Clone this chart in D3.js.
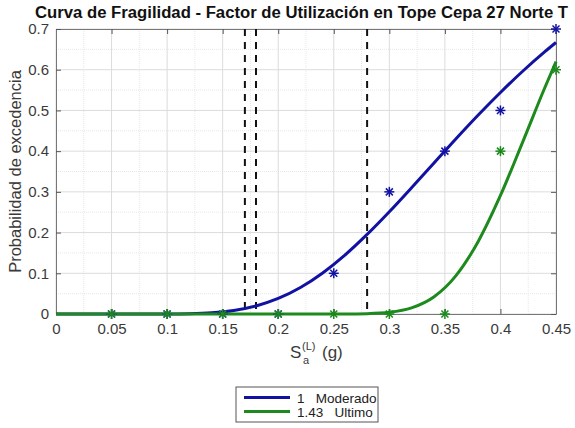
<!DOCTYPE html>
<html>
<head>
<meta charset="utf-8">
<script src="https://cdn.jsdelivr.net/npm/d3@7"></script>
<style>
  html, body { margin: 0; padding: 0; background: #fff; }
  svg { display: block; font-family: "Liberation Sans", Arial, sans-serif; }
</style>
</head>
<body>
<svg id="chart" width="575" height="428"></svg>
<script>
// Observed exceedance fractions at each spectral acceleration level
const levelsSa = [0.05, 0.10, 0.15, 0.20, 0.25, 0.30, 0.35, 0.40, 0.45];
const obsModerado = [0, 0, 0, 0, 0.10, 0.30, 0.40, 0.50, 0.70];
const obsUltimo   = [0, 0, 0, 0, 0, 0, 0, 0.40, 0.60];

// Fitted fragility curves (sampled)
const curveSaModerado = [0, 0.05, 0.10, 0.12, 0.14, 0.16, 0.18, 0.20, 0.22, 0.24, 0.26, 0.28, 0.30, 0.32, 0.34, 0.36, 0.38, 0.40, 0.42, 0.44, 0.45];
const curvePModerado  = [0, 0, 0.0001, 0.0008, 0.0031, 0.0087, 0.0198, 0.0381, 0.065, 0.1008, 0.1446, 0.1954, 0.2511, 0.3101, 0.3705, 0.4304, 0.4887, 0.5441, 0.5962, 0.6443, 0.6668];
const curveSaUltimo = [0, 0.05, 0.10, 0.15, 0.20, 0.24, 0.26, 0.28, 0.30, 0.32, 0.34, 0.36, 0.38, 0.40, 0.42, 0.44, 0.45];
const curvePUltimo  = [0, 0, 0, 0, 0, 0, 0.0001, 0.0009, 0.0042, 0.015, 0.0418, 0.0943, 0.1782, 0.2911, 0.4223, 0.5563, 0.6198];

// Threshold markers (dashed verticals)
const thresholds = [0.17, 0.18, 0.28];

const xTicks = [0, 0.05, 0.1, 0.15, 0.2, 0.25, 0.3, 0.35, 0.4, 0.45];
const yTicks = [0, 0.1, 0.2, 0.3, 0.4, 0.5, 0.6, 0.7];
const legendLabels = ["1   Moderado", "1.43   Ultimo"];
const titleText = "Curva de Fragilidad - Factor de Utilización en Tope Cepa 27 Norte T";

const colBlue = "#1212a2";
const colGreen = "#1c8a1c";

const svg = d3.select("#chart");
const pL = 56, pR = 556, pT = 29, pB = 314;

const x = d3.scaleLinear().domain([0, 0.45]).range([pL, pR]);
const y = d3.scaleLinear().domain([0, 0.7]).range([pB, pT]);

// minor grid
const xMinor = d3.range(0.025, 0.45, 0.05);
const yMinor = d3.range(0.05, 0.7, 0.1);
const g = svg.append("g");
g.selectAll(".xm").data(xMinor).join("line")
  .attr("x1", d => x(d)).attr("x2", d => x(d)).attr("y1", pT).attr("y2", pB)
  .attr("stroke", "#e8e8e8").attr("stroke-width", 1).attr("stroke-dasharray", "1,1");
g.selectAll(".ym").data(yMinor).join("line")
  .attr("x1", pL).attr("x2", pR).attr("y1", d => y(d)).attr("y2", d => y(d))
  .attr("stroke", "#e8e8e8").attr("stroke-width", 1).attr("stroke-dasharray", "1,1");
// major grid
g.selectAll(".xg").data(xTicks).join("line")
  .attr("x1", d => x(d)).attr("x2", d => x(d)).attr("y1", pT).attr("y2", pB)
  .attr("stroke", "#dcdcdc").attr("stroke-width", 1);
g.selectAll(".yg").data(yTicks).join("line")
  .attr("x1", pL).attr("x2", pR).attr("y1", d => y(d)).attr("y2", d => y(d))
  .attr("stroke", "#dcdcdc").attr("stroke-width", 1);

// axes box with inward ticks
const axCol = "#3a3a3a";
const fmt = d => d === 0 ? "0" : String(+d.toFixed(2));
const xAxis = svg.append("g").attr("transform", `translate(0,${pB})`)
  .call(d3.axisBottom(x).tickValues(xTicks).tickSizeInner(-5).tickSizeOuter(0).tickPadding(9).tickFormat(fmt));
const xAxisTop = svg.append("g").attr("transform", `translate(0,${pT})`)
  .call(d3.axisTop(x).tickValues(xTicks).tickSizeInner(-5).tickSizeOuter(0).tickFormat(""));
const yAxis = svg.append("g").attr("transform", `translate(${pL},0)`)
  .call(d3.axisLeft(y).tickValues(yTicks).tickSizeInner(-5).tickSizeOuter(0).tickPadding(7).tickFormat(fmt));
const yAxisRight = svg.append("g").attr("transform", `translate(${pR},0)`)
  .call(d3.axisRight(y).tickValues(yTicks).tickSizeInner(-5).tickSizeOuter(0).tickFormat(""));
[xAxis, xAxisTop, yAxis, yAxisRight].forEach(a => {
  a.select(".domain").attr("stroke", "#777").attr("stroke-width", 1);
  a.selectAll(".tick line").attr("stroke", "#555");
  a.selectAll(".tick text").attr("fill", axCol).attr("font-size", "15px")
    .attr("font-family", "'Liberation Sans', Arial, sans-serif");
});

// dashed thresholds
svg.selectAll(".thr").data(thresholds).join("line")
  .attr("x1", d => x(d)).attr("x2", d => x(d)).attr("y1", y(0.7)).attr("y2", y(0))
  .attr("stroke", "#111").attr("stroke-width", 2).attr("stroke-dasharray", "7,6");

// curves
const line = d3.line().x(d => x(d[0])).y(d => y(d[1])).curve(d3.curveMonotoneX);
const blueCurve = d3.zip(curveSaModerado, curvePModerado);
const greenCurve = d3.zip(curveSaUltimo, curvePUltimo);
svg.append("path").attr("d", line(blueCurve)).attr("fill", "none")
  .attr("stroke", colBlue).attr("stroke-width", 3);
svg.append("path").attr("d", line(greenCurve)).attr("fill", "none")
  .attr("stroke", colGreen).attr("stroke-width", 3);

// asterisk markers
function star(sel, pts, col) {
  const r = 5;
  const gg = sel.selectAll(null).data(pts).join("g")
    .attr("transform", d => `translate(${x(d[0])},${y(d[1])})`);
  [[-r, 0, r, 0], [0, -r, 0, r], [-r * 0.7, -r * 0.7, r * 0.7, r * 0.7], [-r * 0.7, r * 0.7, r * 0.7, -r * 0.7]]
    .forEach(c => gg.append("line").attr("x1", c[0]).attr("y1", c[1]).attr("x2", c[2]).attr("y2", c[3])
      .attr("stroke", col).attr("stroke-width", 1.5));
}
star(svg.append("g"), d3.zip(levelsSa, obsModerado), colBlue);
star(svg.append("g"), d3.zip(levelsSa, obsUltimo), colGreen);

// title
svg.append("text").attr("x", 35).attr("y", 18).attr("font-size", "16px").attr("font-weight", "bold")
  .attr("fill", "#111").attr("textLength", 533).attr("lengthAdjust", "spacingAndGlyphs").text(titleText);

// y label
svg.append("text").attr("transform", `translate(21,${(pT + pB) / 2}) rotate(-90)`)
  .attr("text-anchor", "middle").attr("font-size", "16.5px").attr("fill", axCol)
  .text("Probabilidad de excedencia");

// x label: S_a^(L) (g)
const xlY = 358;
svg.append("text").attr("x", 290).attr("y", xlY).attr("font-size", "17px").attr("fill", axCol).text("S");
svg.append("text").attr("x", 302).attr("y", xlY - 8).attr("font-size", "11px").attr("fill", axCol).text("(L)");
svg.append("text").attr("x", 303).attr("y", xlY + 6).attr("font-size", "11px").attr("fill", axCol).text("a");
svg.append("text").attr("x", 322).attr("y", xlY).attr("font-size", "17px").attr("fill", axCol).text("(g)");

// legend
const lg = svg.append("g").attr("transform", "translate(236,387)");
lg.append("rect").attr("width", 142).attr("height", 35).attr("fill", "#fff")
  .attr("stroke", "#555").attr("stroke-width", 1);
[colBlue, colGreen].forEach((c, i) => {
  const yy = 10.5 + i * 14;
  lg.append("line").attr("x1", 8).attr("x2", 54).attr("y1", yy).attr("y2", yy)
    .attr("stroke", c).attr("stroke-width", 3);
  lg.append("text").attr("x", 61).attr("y", yy + 5).attr("font-size", "13.5px")
    .attr("fill", "#222").attr("xml:space", "preserve").style("white-space", "pre").text(legendLabels[i]);
});
</script>
</body>
</html>
